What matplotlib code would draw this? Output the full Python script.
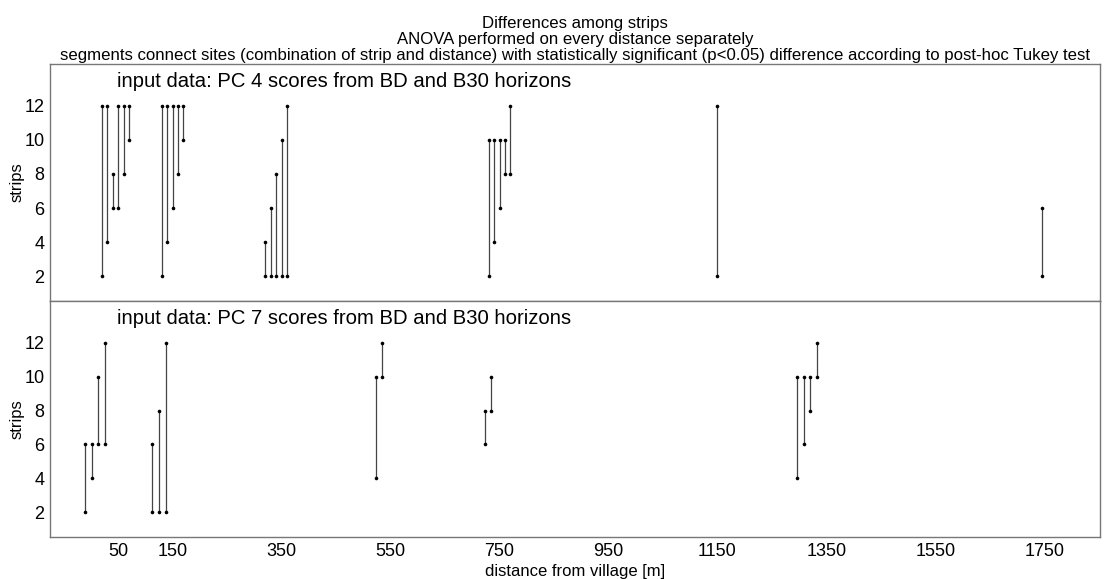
import matplotlib
matplotlib.use("Agg")
import matplotlib.pyplot as plt

plt.rcParams['font.family'] = ['Liberation Sans', 'DejaVu Sans']

# ---- data (distance position of segment, strip at one end, strip at other end)
top_x = [20, 30, 40, 50, 60, 70, 130, 140, 150, 160, 170,
         320, 330, 340, 350, 360, 730, 740, 750, 760, 770, 1150, 1745]
top_y1 = [12, 12, 8, 12, 12, 12, 12, 12, 12, 12, 12,
          2, 2, 2, 2, 2, 10, 10, 10, 10, 12, 12, 6]
top_y2 = [2, 4, 6, 6, 8, 10, 2, 4, 6, 8, 10,
          4, 6, 8, 10, 12, 2, 4, 6, 8, 8, 2, 2]

bot_x = [-10, 2, 14, 26, 113, 125, 138, 523, 535, 723, 735,
         1296, 1308, 1320, 1332]
bot_y1 = [6, 6, 10, 12, 6, 8, 12, 10, 12, 8, 10, 10, 10, 10, 12]
bot_y2 = [2, 4, 6, 6, 2, 2, 2, 4, 10, 6, 8, 4, 6, 8, 10]

x_ticks = [50, 150, 350, 550, 750, 950, 1150, 1350, 1550, 1750]
y_ticks = [2, 4, 6, 8, 10, 12]

title_lines = ["Differences among strips",
               "ANOVA performed on every distance separately",
               "segments connect sites (combination of strip and distance) with statistically "
               "significant (p<0.05) difference according to post-hoc Tukey test"]
panel_labels = ["input data: PC 4 scores from BD and B30 horizons",
                "input data: PC 7 scores from BD and B30 horizons"]

fig = plt.figure(figsize=(11.04, 5.79), dpi=100)
left, right = 50 / 1104, 1100 / 1104
ax1 = fig.add_axes([left, 1 - 301 / 579, right - left, (301 - 64) / 579])
ax2 = fig.add_axes([left, 1 - 537 / 579, right - left, (537 - 301) / 579], sharex=ax1)

for ax, xs, ya, yb, lab in [(ax1, top_x, top_y1, top_y2, panel_labels[0]),
                            (ax2, bot_x, bot_y1, bot_y2, panel_labels[1])]:
    for x, a, b in zip(xs, ya, yb):
        ax.plot([x, x], [a, b], color='#444444', lw=0.9, solid_capstyle='butt')
        ax.plot([x, x], [a, b], ls='none', marker='o', ms=2.6, color='black',
                markeredgewidth=0)
    ax.set_xlim(-75, 1852)
    ax.set_ylim(0.55, 14.45)
    ax.set_yticks(y_ticks)
    ax.tick_params(axis='both', length=0, labelsize=13, pad=4)
    ax.set_ylabel('strips', fontsize=12)
    ax.yaxis.set_label_coords(-0.024, 0.5)
    for s in ax.spines.values():
        s.set_color('#777777')
        s.set_linewidth(1.0)
    ax.text(0.064, 0.965, lab, transform=ax.transAxes, fontsize=14.6,
            ha='left', va='top')

ax1.set_xticks(x_ticks)
ax1.tick_params(axis='x', labelbottom=False)
ax2.set_xlabel('distance from village [m]', fontsize=12, labelpad=3)

fig.text((left + right) / 2, 1 - 64 / 579 + 0.002, "\n".join(title_lines),
         ha='center', va='bottom', fontsize=12.1, linespacing=1.08)

fig.savefig('out.png', dpi=100)
